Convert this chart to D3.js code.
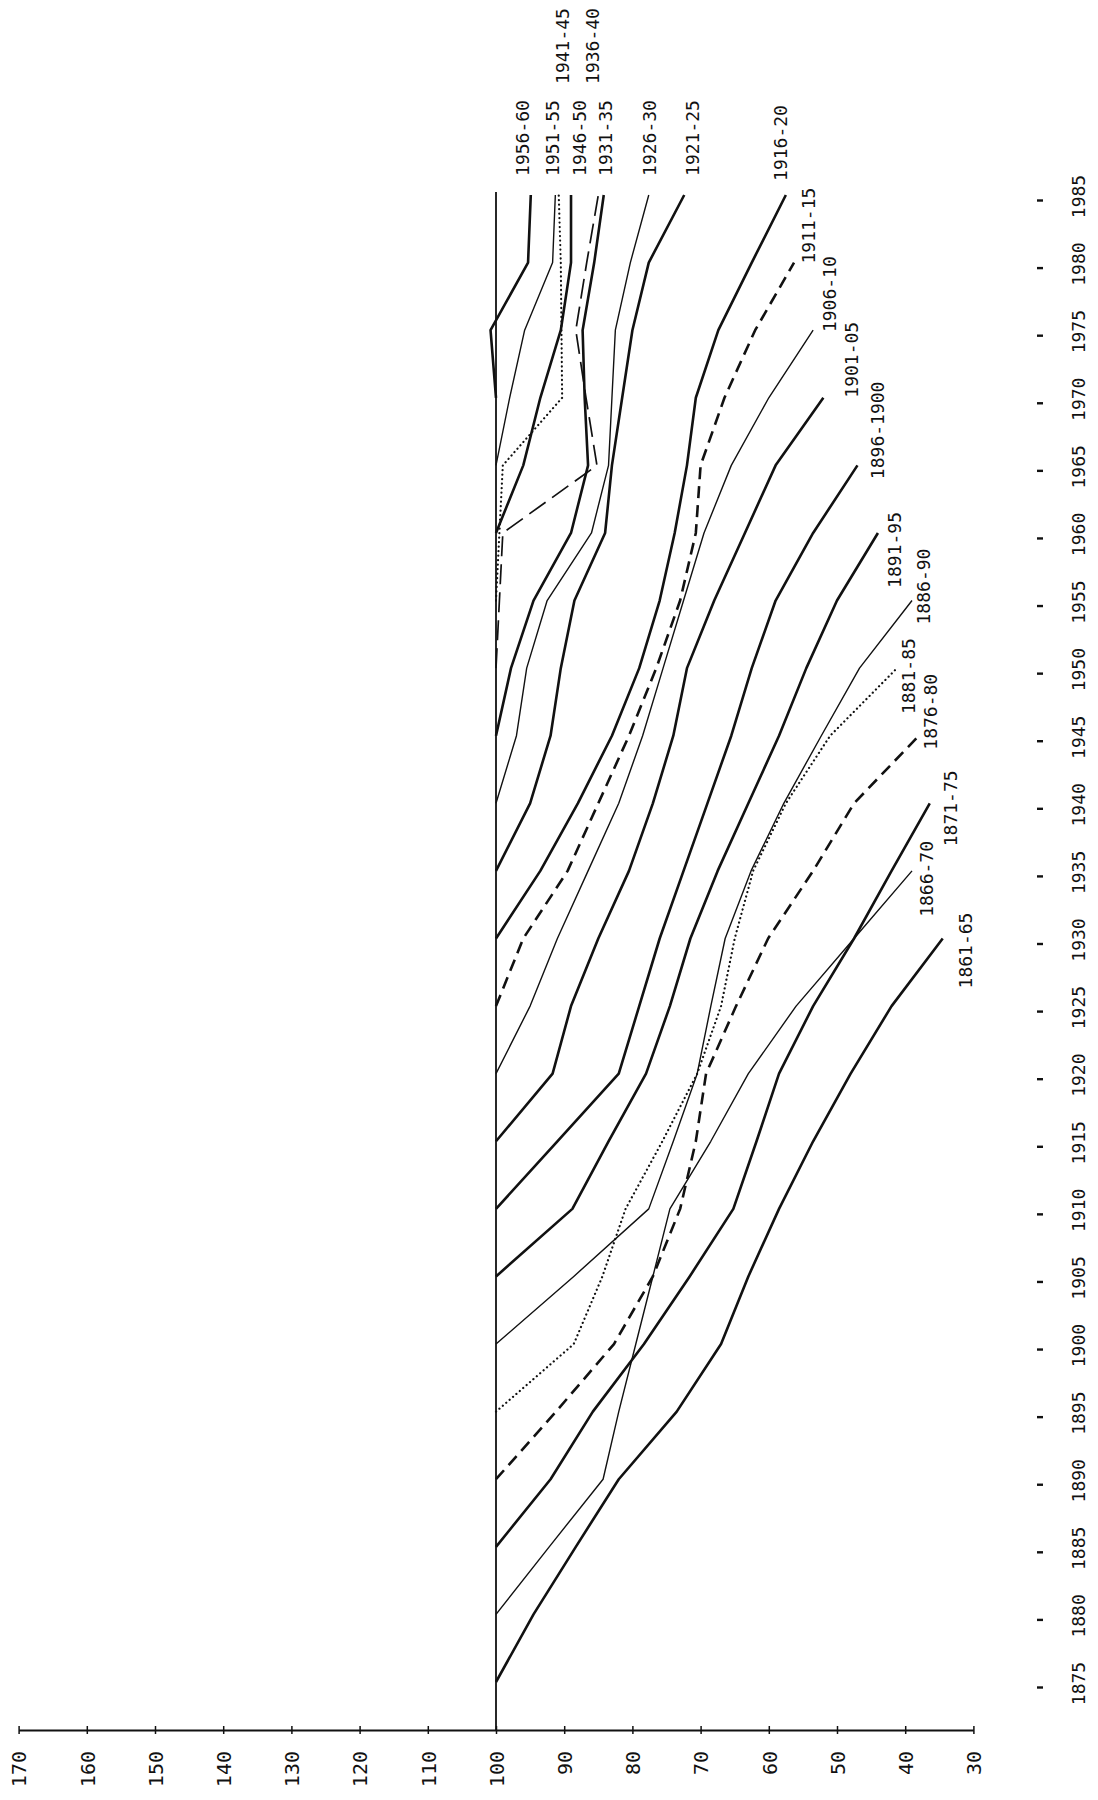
<!DOCTYPE html>
<html>
<head>
<meta charset="utf-8">
<script src="https://cdn.jsdelivr.net/npm/d3@7"></script>
<style>
  body { margin: 0; background: #fff; }
  text { font-family: "DejaVu Sans Mono", monospace; fill: #111; }
</style>
</head>
<body>
<div id="chart"></div>
<script>
// Birth cohorts and the year each cohort's index starts at 100
var cohorts = ["1861-65", "1866-70", "1871-75", "1876-80", "1881-85", "1886-90",
               "1891-95", "1896-1900", "1901-05", "1906-10", "1911-15", "1916-20",
               "1921-25", "1926-30", "1931-35", "1936-40", "1941-45", "1946-50",
               "1951-55", "1956-60"];
var startYears = [1875, 1880, 1885, 1890, 1895, 1900, 1905, 1910, 1915, 1920,
                  1925, 1930, 1935, 1940, 1945, 1950, 1955, 1960, 1965, 1970];

// index values, one every 5 years from the start year
var c1861 = [100, 94.5, 88.3, 82, 73.5, 67, 63, 58.5, 53.5, 48, 42, 34.5];
var c1866 = [100, 92.2, 84.3, 82, 79.5, 77, 74.5, 68.5, 63, 56, 47.5, 39];
var c1871 = [100, 92, 85.8, 78.3, 71.6, 65.2, 61.8, 58.5, 53.5, 47.5, 42, 36.4];
var c1876 = [100, 91.2, 82.7, 77, 73, 70.7, 69.2, 64.8, 60.1, 53.5, 47.5, 38];
var c1881 = [100, 88.6, 84.4, 81, 75.6, 70.5, 67, 65, 62.3, 57.5, 51, 41.2];
var c1886 = [100, 88.6, 77.6, 74, 70.5, 68.5, 66.4, 62.6, 57.8, 52.3, 46.7, 39];
var c1891 = [100, 88.8, 83.5, 78, 74.5, 71.5, 67.5, 63, 58.5, 54.5, 50, 44];
var c1896 = [100, 91, 82, 79, 76, 72.5, 69, 65.5, 62.5, 59, 53.5, 47];
var c1901 = [100, 91.7, 89, 85, 80.5, 77, 74, 72, 68, 63.5, 59, 52];
var c1906 = [100, 95, 91, 86.5, 82, 78.5, 75.5, 72.5, 69.5, 65.5, 60, 53.5];
var c1911 = [100, 96, 89.5, 85, 80.5, 76.5, 73, 70.7, 70, 66.5, 62, 56.3];
var c1916 = [100, 93.5, 88, 83, 79, 76, 73.8, 72, 70.7, 67.4, 62.5, 57.5];
var c1921 = [100, 95, 92, 90.5, 88.5, 84, 83, 81.5, 80, 77.6, 72.4];
var c1926 = [100, 97, 95.5, 92.5, 86, 83.5, 83, 82.5, 80.3, 77.6];
var c1931 = [100, 97.8, 94.5, 89, 86.5, 87, 87.3, 85.6, 84.2];
var c1936 = [100, 99.5, 99, 85.2, 86.8, 88.3, 86.7, 85];
var c1941 = [100, 99.5, 99, 90.3, 90.4, 90.5, 90.8];
var c1946 = [100, 96, 93.5, 90.5, 89, 89];
var c1951 = [100, 98, 95.8, 91.7, 91.3];
var c1956 = [100, 100.8, 95.3, 94.9];

var seriesValues = [c1861, c1866, c1871, c1876, c1881, c1886, c1891, c1896, c1901, c1906,
                    c1911, c1916, c1921, c1926, c1931, c1936, c1941, c1946, c1951, c1956];

// axis ticks
var valueTicks = [170, 160, 150, 140, 130, 120, 110, 100, 90, 80, 70, 60, 50, 40, 30];
var yearTicks = [1875, 1880, 1885, 1890, 1895, 1900, 1905, 1910, 1915, 1920, 1925, 1930,
                 1935, 1940, 1945, 1950, 1955, 1960, 1965, 1970, 1975, 1980, 1985];

// line style per cohort
var lineStyle = ["thick", "thin", "thick", "dash", "dot", "thin", "thick", "thick", "thick", "thin",
                 "dash", "thick", "thick", "thin", "thick", "longdash", "dot", "thick", "thin", "thick"];

var styles = {
    thick:    {w: 2.6, dash: null},
    thin:     {w: 1.4, dash: null},
    dash:     {w: 2.6, dash: "12,7"},
    longdash: {w: 1.7, dash: "20,8"},
    dot:      {w: 2.2, dash: "0.1,4.4"}
};

// label placement, offset from each line's last point (px)
var labelOffsets = [[23, 12], [14, 8], [21, 5], [12, -24], [11, 8], [11, -14],
                    [17, 17], [20, -35], [28, -38], [16, -36], [14, -37], [-5, -52],
                    [8, -57], [1, -57], [2, -57], [-6, -149], [4, -149], [8, -57],
                    [-3, -57], [-8, -57]];

var width = 1098, height = 1800;
var axisY = 1730;

var x = d3.scaleLinear().domain([170, 30]).range([18.6, 973.4]);
var y = d3.scaleLinear().domain([1875, 1985]).range([1682, 195]);

var svg = d3.select("#chart")
  .append("svg")
    .attr("width", width)
    .attr("height", height);

svg.append("rect")
    .attr("width", width)
    .attr("height", height)
    .attr("fill", "#fff");

// value axis along the bottom
var valueAxis = svg.append("g")
    .attr("transform", "translate(0," + axisY + ")")
    .call(d3.axisBottom(x)
      .tickValues(valueTicks)
      .tickSizeOuter(0)
      .tickSizeInner(4)
      .tickPadding(0));

valueAxis.select(".domain").attr("stroke", "#111").attr("stroke-width", 2);
valueAxis.selectAll(".tick line")
    .attr("y1", -4).attr("y2", 4)
    .attr("stroke", "#111").attr("stroke-width", 1.5);
valueAxis.selectAll(".tick text")
    .attr("x", -21).attr("y", 0).attr("dy", "0.36em")
    .attr("transform", "rotate(-90)")
    .attr("text-anchor", "end")
    .style("font-size", "20px")
    .style("font-family", "DejaVu Sans Mono, monospace")
    .attr("fill", "#111");

// year axis: ticks only, labels to the right
var yearAxis = svg.append("g")
    .attr("transform", "translate(1037,5)")
    .call(d3.axisRight(y)
      .tickValues(yearTicks)
      .tickFormat(d3.format("d"))
      .tickSizeOuter(0)
      .tickSizeInner(6));

yearAxis.select(".domain").remove();
yearAxis.selectAll(".tick line").attr("stroke", "#111").attr("stroke-width", 2.4);
yearAxis.selectAll(".tick text")
    .attr("x", 0).attr("y", 0).attr("dy", "0.36em")
    .attr("transform", "translate(42,-4) rotate(-90)")
    .attr("text-anchor", "middle")
    .style("font-size", "18px")
    .style("font-family", "DejaVu Sans Mono, monospace")
    .attr("fill", "#111");

// the 100 reference line
svg.append("line")
    .attr("x1", x(100)).attr("x2", x(100))
    .attr("y1", y(1985) - 3).attr("y2", axisY)
    .attr("stroke", "#111")
    .attr("stroke-width", 1.8);

var line = d3.line()
    .x(function(d) { return x(d.value); })
    .y(function(d) { return y(d.year); });

cohorts.forEach(function(name, i) {
    var pts = seriesValues[i].map(function(v, j) {
        return {year: startYears[i] + 5 * j, value: v};
    });
    var st = styles[lineStyle[i]];
    var path = svg.append("path")
        .datum(pts)
        .attr("fill", "none")
        .attr("stroke", "#111")
        .attr("stroke-width", st.w)
        .attr("stroke-linejoin", "round")
        .attr("d", line);
    if (st.dash) {
        path.attr("stroke-dasharray", st.dash);
    }
    if (lineStyle[i] == "dot") {
        path.attr("stroke-linecap", "round");
    }

    var last = pts[pts.length - 1];
    var lx = x(last.value) + labelOffsets[i][0],
        ly = y(last.year) + labelOffsets[i][1];
    svg.append("text")
        .attr("transform", "translate(" + lx + "," + ly + ") rotate(-90)")
        .attr("text-anchor", "middle")
        .attr("dy", "0.36em")
        .style("font-size", "18px")
        .text(name);
});
</script>
</body>
</html>
